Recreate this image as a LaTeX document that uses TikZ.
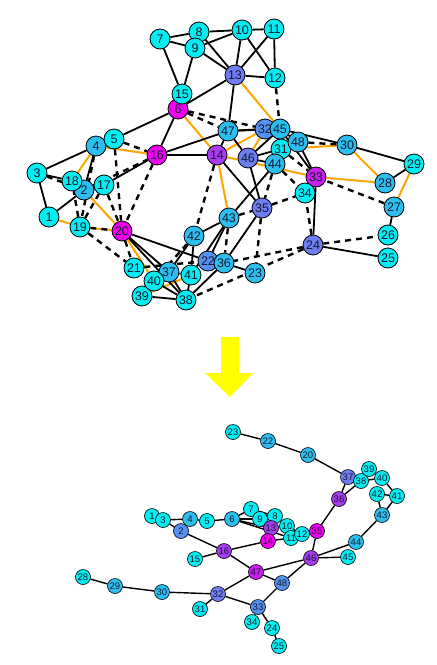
\documentclass[tikz,border=0pt]{standalone}
\usepackage{fontspec}
\setmainfont{Liberation Sans}
\usetikzlibrary{backgrounds}
\definecolor{vcyan}{RGB}{0,238,242}
\definecolor{vsky}{RGB}{45,190,240}
\definecolor{vblue}{RGB}{85,145,240}
\definecolor{vperi}{RGB}{110,125,240}
\definecolor{vviolet}{RGB}{165,60,240}
\definecolor{vpurple}{RGB}{200,30,240}
\definecolor{vmagenta}{RGB}{238,0,238}
\definecolor{linkorange}{RGB}{255,165,0}
\definecolor{arrowyellow}{RGB}{255,255,0}
\definecolor{vtext}{RGB}{20,25,45}
\tikzset{
  vtx/.style={circle,draw=black,line width=0.8pt,inner sep=0pt,minimum size=20pt,text=vtext,font=\fontsize{12.5}{12.5}\selectfont},
  smallvtx/.style={circle,draw=black,line width=0.6pt,inner sep=0pt,minimum size=15pt,text=vtext,font=\fontsize{9.5}{9.5}\selectfont},
  link/.style={line width=1.8pt},
  dlink/.style={line width=2.4pt,dash pattern=on 6pt off 5pt},
  olink/.style={line width=2pt,draw=linkorange},
  tlink/.style={line width=1.4pt}
}

\begin{document}
\begin{tikzpicture}[x=1pt,y=1pt]
  \useasboundingbox (0,0) rectangle (437,-665);
  % graph before
  \foreach \n/\x/\y/\c in {
    1/49/217/vcyan, 2/84/190/vsky, 3/37/173/vcyan, 4/96/146/vsky, 5/114/139/vcyan,
    6/178/109/vmagenta, 7/160/39/vcyan, 8/199/32/vcyan, 9/195/48/vcyan, 10/242/30/vcyan,
    11/274/29/vcyan, 12/275/78/vcyan, 13/235/75/vperi, 14/217/155/vviolet, 15/182/94/vcyan,
    16/157/155/vmagenta, 17/104/185/vcyan, 18/72/181/vcyan, 19/80/227/vcyan, 20/122/231/vmagenta,
    21/134/268/vcyan, 22/208/261/vblue, 23/255/273/vsky, 24/313/245/vperi, 25/388/258/vcyan,
    26/388/235/vcyan, 27/394/207/vsky, 28/385/183/vsky, 29/414/164/vcyan, 30/347/145/vsky,
    31/281/149/vcyan, 32/265/129/vblue, 33/316/177/vpurple, 34/305/193/vcyan, 35/262/208/vperi,
    36/224/263/vsky, 37/169/272/vsky, 38/186/300/vcyan, 39/142/296/vcyan, 40/154/281/vcyan,
    41/191/275/vcyan, 42/194/236/vsky, 43/229/218/vsky, 44/275/164/vsky, 45/280/129/vsky,
    46/248/158/vperi, 47/228/131/vsky, 48/298/142/vsky}
    \node[vtx,fill=\c] (t\n) at (\x,-\y) {\n};
  % graph after
  \foreach \n/\x/\y/\c in {
    1/152/516/vcyan, 2/181/531/vblue, 3/163/520/vcyan, 4/190/519/vsky, 5/207/521/vcyan,
    6/232/519/vsky, 7/251/509/vcyan, 8/275/516/vcyan, 9/260/519/vcyan, 10/287/526/vcyan,
    11/291/538/vcyan, 12/302/534/vcyan, 13/271/528/vviolet, 14/268/541/vmagenta, 15/195/559/vcyan,
    16/224/551/vviolet, 20/308/455/vsky, 22/268/441/vsky, 23/233/432/vcyan, 24/272/628/vcyan,
    25/279/646/vcyan, 28/83/577/vcyan, 29/115/586/vsky, 30/162/592/vsky, 31/200/609/vcyan,
    32/218/594/vperi, 33/258/607/vblue, 34/252/622/vcyan, 35/317/531/vmagenta, 36/339/499/vviolet,
    37/348/477/vperi, 38/361/481/vcyan, 39/369/469/vcyan, 40/382/478/vcyan, 41/397/496/vcyan,
    42/377/494/vcyan, 43/382/515/vsky, 44/356/542/vsky, 45/348/557/vcyan, 46/311/558/vviolet,
    47/256/572/vpurple, 48/282/583/vblue}
    \node[smallvtx,fill=\c] (b\n) at (\x,-\y) {\n};

  \begin{scope}[on background layer]
    \foreach \a/\b in {13/45, 6/14, 4/16, 4/18, 14/43, 1/19, 19/20, 2/20, 20/40, 39/41,
      27/29, 28/33, 28/30, 31/30, 14/33, 14/32, 47/32, 46/32}
      \draw[olink] (t\a) -- (t\b);
    \foreach \a/\b in {7/8, 7/9, 8/9, 8/10, 9/10, 8/13, 9/13, 10/13, 10/11, 11/12, 10/12,
      11/13, 13/12, 7/15, 9/15, 13/6, 13/47, 6/15, 6/5, 5/4, 6/16, 16/14, 16/47, 16/17,
      4/3, 4/2, 3/1, 3/18, 1/2, 47/14, 47/46, 47/32, 47/45, 46/45, 46/31, 46/44,
      14/35, 46/35, 44/43, 35/36, 43/42, 43/22, 43/41, 42/37, 42/41, 20/22, 20/37, 20/38,
      40/37, 40/38, 39/38, 40/39, 37/38, 37/41, 41/38, 38/36, 36/22, 36/23, 33/24, 24/25,
      26/27, 28/29, 30/29, 45/30, 48/33, 45/33, 45/48, 32/45, 45/31}
      \draw[link] (t\a) -- (t\b);
    \foreach \a/\b in {12/45, 6/32, 6/47, 5/16, 5/20, 3/2, 4/19, 19/18, 19/17, 19/20, 2/16,
      16/20, 17/20, 19/21, 20/21, 21/22, 14/42, 44/35, 43/35, 35/34, 35/23, 43/36, 40/42,
      24/38, 24/36, 24/34, 24/26, 27/33, 48/30, 44/34, 31/33}
      \draw[dlink] (t\a) -- (t\b);
    \foreach \a/\b in {23/22, 22/20, 20/37, 37/38, 38/39, 38/40, 39/40, 40/41, 42/41, 42/43,
      41/43, 43/44, 37/36, 38/36, 36/35, 35/46, 46/44, 46/45, 46/47, 46/48, 48/47, 47/16,
      47/32, 48/33, 32/33, 32/30, 30/29, 29/28, 32/31, 33/34, 33/24, 24/25, 16/15, 16/2,
      16/14, 14/11, 11/12, 2/3, 1/3, 3/4, 4/5, 5/6, 6/7, 6/9, 6/13, 6/11, 7/8, 8/9, 8/10,
      9/13, 13/10, 10/12}
      \draw[tlink] (b\a) -- (b\b);
  \end{scope}

  % arrow between the two graphs
  \fill[arrowyellow] (221,-337) -- (239,-337) -- (239,-373) -- (253,-373) -- (230,-397)
    -- (205,-373) -- (221,-373) -- cycle;
\end{tikzpicture}
\end{document}
